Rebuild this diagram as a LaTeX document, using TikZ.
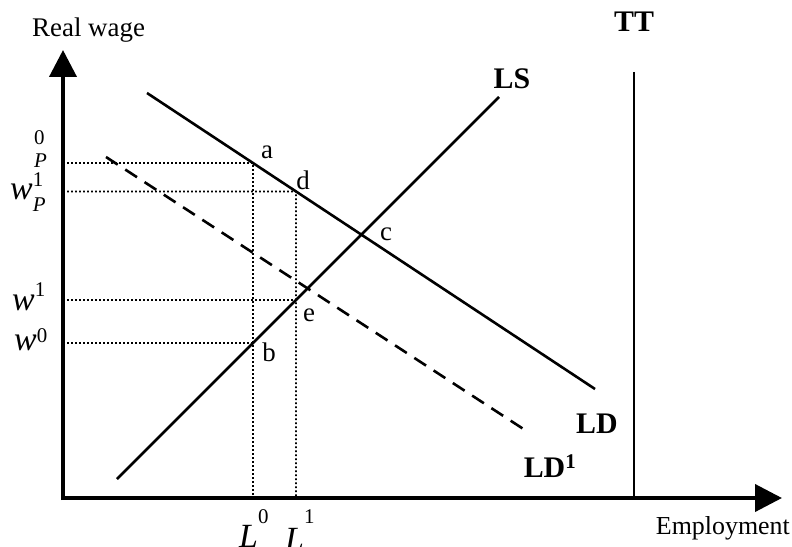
\documentclass[tikz,border=0pt]{standalone}
\usepackage{fontspec}
\setmainfont{Liberation Serif}
\usetikzlibrary{arrows.meta,calc}
\newcommand{\idx}[1]{{\fontsize{21}{21}\selectfont #1}}
\tikzset{
  axis/.style={line width=4bp, -{Triangle[length=27bp,width=27bp]}},
  curve/.style={line width=2.6bp},
  guide/.style={line width=1.8bp, dash pattern=on 1.8bp off 2.2bp},
  ptlab/.style={font=\fontsize{27}{27}\selectfont, inner sep=0pt},
  curvelab/.style={font=\fontsize{30}{30}\selectfont\bfseries, inner sep=0pt},
  axlab/.style={font=\fontsize{26}{26}\selectfont, inner sep=0pt},
  wlab/.style={font=\fontsize{34}{34}\selectfont, inner sep=0pt, anchor=base west},
}
\begin{document}
\begin{tikzpicture}[x=1bp, y=-1bp]
  \useasboundingbox (0,0) rectangle (792,547);
  % axes
  \coordinate (O) at (63,498);
  \coordinate (ytip) at (63,50);
  \coordinate (xtip) at (782,498);
  \draw[axis] (63,500) -- (ytip);
  \draw[axis] (61,498) -- (xtip);
  \node[axlab, font=\fontsize{27}{27}\selectfont, anchor=base west] (ylab) at (32,37) {Real wage};
  \node[axlab, anchor=base east] (xlab) at (790,534) {Employment};
  % curve end points
  \coordinate (LDs) at (147,93);
  \coordinate (LDe) at (595,389);
  \coordinate (LSs) at (117,479);
  \coordinate (LSe) at (499,97);
  \coordinate (LDas) at (106,157);
  \coordinate (LDae) at (528,432);
  \coordinate (TTtop) at (634,72);
  \coordinate (TTbot) at (634,498);
  \coordinate (Lzero) at (253,498);
  \coordinate (Lzerotop) at (253,0);
  \coordinate (Lone) at (296,498);
  \coordinate (Lonetop) at (296,0);
  % points
  \coordinate (a) at (intersection of LDs--LDe and Lzero--Lzerotop);
  \coordinate (d) at (intersection of LDs--LDe and Lone--Lonetop);
  \coordinate (b) at (intersection of LSs--LSe and Lzero--Lzerotop);
  \coordinate (e) at (intersection of LSs--LSe and Lone--Lonetop);
  % dotted guides
  \draw[guide] (O |- a) -- (a) -- (Lzero);
  \draw[guide] (O |- d) -- (d) -- (Lone);
  \draw[guide] (O |- e) -- (e);
  \draw[guide] (O |- b) -- (b);
  % curves
  \draw[curve] (LDs) -- (LDe);
  \draw[curve] (LSs) -- (LSe);
  \draw[curve, dash pattern=on 14bp off 9bp] (LDas) -- (LDae);
  \draw[line width=1.7bp] (TTtop) -- (TTbot);
  \node[curvelab] (LSlab) at (512,79) {LS};
  \node[curvelab] (LDlab) at (597,424) {LD};
  \node[curvelab] (LDalab) at (550,466) {LD\textsuperscript{1}};
  \node[curvelab] (TTlab) at (634,22) {TT};
  % point labels
  \node[ptlab] (alab) at (267,152) {a};
  \node[ptlab] (dlab) at (303,180) {d};
  \node[ptlab] (clab) at (386,234) {c};
  \node[ptlab] (elab) at (309,315) {e};
  \node[ptlab] (blab) at (269,352) {b};
  % wage labels
  \node[font=\fontsize{21}{21}\selectfont, inner sep=0pt, anchor=base west]
    (wPzero) at (34,168) {\rlap{\raisebox{23bp}{0}}\textit{P}};
  \node[wlab] (wPone) at (10,200)
    {\textit{w}\rlap{\raisebox{13bp}{\idx{1}}}\raisebox{-12bp}{\idx{\textit{P}}}};
  \node[wlab] (wone) at (12,311) {\textit{w}\raisebox{14bp}{\idx{1}}};
  \node[wlab] (wzero) at (14,350) {\textit{w}\raisebox{8bp}{\idx{0}}};
  % employment labels
  \node[wlab, font=\fontsize{34}{34}\selectfont] (Lzlab) at (239,547)
    {\textit{L}\raisebox{24bp}{\idx{0}}};
  \node[wlab, font=\fontsize{34}{34}\selectfont] (Lolab) at (285,550)
    {\textit{L}\raisebox{27bp}{\idx{1}}};
\end{tikzpicture}
\end{document}
